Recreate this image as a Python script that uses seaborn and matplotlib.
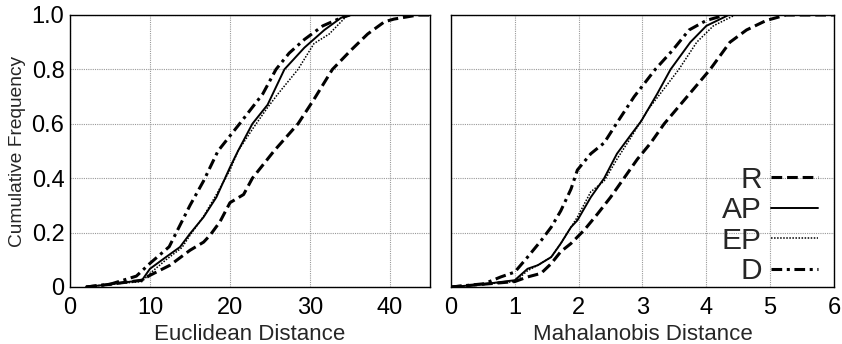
import numpy as np
import pandas as pd
import matplotlib.pyplot as plt
import seaborn as sns

# =============================================================================
# DONNÉES
# =============================================================================

# Distance euclidienne
eu_x_R  = [2, 5, 9, 10, 12.5, 15, 16.7, 17.5, 18.75, 20, 21.7, 22.8, 25.5, 28.5, 30.5, 32.8, 35.1, 37.2, 39.3, 40.5, 43.5, 45]
eu_y_R  = [0, 0.01, 0.025, 0.043, 0.08, 0.135, 0.165, 0.19, 0.24, 0.31, 0.34, 0.40, 0.50, 0.60, 0.69, 0.80, 0.87, 0.93, 0.975, 0.985, 1.0, 1.0]
eu_x_AP = [2, 5, 9, 10, 12, 13.75, 15, 16.7, 18.3, 20, 21, 22.8, 24.7, 26.8, 29.3, 31.8, 33.9, 35]
eu_y_AP = [0, 0.01, 0.025, 0.067, 0.11, 0.147, 0.196, 0.257, 0.33, 0.44, 0.50, 0.60, 0.67, 0.80, 0.88, 0.945, 0.99, 1.0]
eu_x_EP = [2, 5, 9, 10, 12, 14, 15, 16.7, 18.3, 20, 21, 22.8, 24.7, 26, 28.5, 30.5, 32.4, 34.7]
eu_y_EP = [0, 0.01, 0.02, 0.05, 0.10, 0.145, 0.19, 0.26, 0.34, 0.43, 0.50, 0.58, 0.66, 0.71, 0.80, 0.895, 0.93, 1.0]
eu_x_D  = [2, 5, 8.3, 10, 12.4, 15, 16.7, 18.5, 21.2, 24.1, 25.75, 27.4, 29.3, 31.6, 33.9, 35]
eu_y_D  = [0, 0.01, 0.04, 0.087, 0.148, 0.30, 0.39, 0.50, 0.60, 0.71, 0.80, 0.86, 0.91, 0.96, 0.99, 1.0]

# Distance de Mahalanobis
ma_x_R  = [0, 0.5, 1.0, 1.2, 1.41, 1.57, 1.72, 1.88, 2.09, 2.3, 2.5, 2.71, 2.92, 3.13, 3.34, 3.70, 4.06, 4.37, 4.63, 4.94, 5.25, 6.0]
ma_y_R  = [0, 0.01, 0.02, 0.037, 0.05, 0.086, 0.13, 0.16, 0.21, 0.27, 0.33, 0.40, 0.47, 0.53, 0.60, 0.70, 0.80, 0.90, 0.945, 0.98, 1.0, 1.0]
ma_x_AP = [0, 0.5, 1.0, 1.2, 1.36, 1.57, 1.72, 1.88, 1.98, 2.19, 2.4, 2.6, 2.82, 2.98, 3.23, 3.44, 3.75, 4.0, 4.35, 4.5]
ma_y_AP = [0, 0.01, 0.025, 0.067, 0.08, 0.11, 0.16, 0.22, 0.245, 0.33, 0.40, 0.49, 0.56, 0.61, 0.71, 0.80, 0.90, 0.96, 1.0, 1.0]
ma_x_EP = [0, 0.5, 1.0, 1.2, 1.36, 1.57, 1.72, 1.88, 1.98, 2.19, 2.4, 2.6, 2.82, 3.08, 3.57, 3.85, 4.11, 4.45]
ma_y_EP = [0, 0.01, 0.02, 0.06, 0.08, 0.11, 0.16, 0.22, 0.257, 0.35, 0.39, 0.47, 0.55, 0.65, 0.80, 0.90, 0.96, 1.0]
ma_x_D  = [0, 0.52, 0.78, 1.0, 1.2, 1.41, 1.57, 1.72, 1.88, 1.98, 2.19, 2.4, 2.59, 2.87, 3.2, 3.47, 3.73, 4.0, 4.3]
ma_y_D  = [0, 0.012, 0.037, 0.055, 0.11, 0.17, 0.22, 0.28, 0.36, 0.43, 0.49, 0.53, 0.60, 0.70, 0.80, 0.87, 0.945, 0.98, 1.0]

series = ["R", "AP", "EP", "D"]
styles = {"R": (0, (3.5, 1.6)), "AP": "-", "EP": (0, (1, 1)), "D": (0, (3.5, 1.5, 1, 1.5))}
widths = {"R": 2.2, "AP": 1.4, "EP": 1.1, "D": 2.2}

eu = {"R": (eu_x_R, eu_y_R), "AP": (eu_x_AP, eu_y_AP), "EP": (eu_x_EP, eu_y_EP), "D": (eu_x_D, eu_y_D)}
ma = {"R": (ma_x_R, ma_y_R), "AP": (ma_x_AP, ma_y_AP), "EP": (ma_x_EP, ma_y_EP), "D": (ma_x_D, ma_y_D)}

# =============================================================================
# STYLE
# =============================================================================

sns.set_theme(style="white")
plt.rcParams["font.family"] = ["Liberation Sans", "DejaVu Sans"]

fig = plt.figure(figsize=(8.42, 3.44), dpi=100)
ax1 = fig.add_axes([0.0831, 0.1657, 0.4276, 0.7907])
ax2 = fig.add_axes([0.5356, 0.1657, 0.4549, 0.7907])


def tracer(ax, donnees):
    for s in series:
        x, y = donnees[s]
        df = pd.DataFrame({"x": x, "y": y})
        sns.lineplot(data=df, x="x", y="y", ax=ax, color="black",
                     linestyle=styles[s], linewidth=widths[s], label=s)
    ax.grid(True, color="#999999", linestyle=(0, (1, 1)), linewidth=0.8)
    for sp in ax.spines.values():
        sp.set_color("black")
        sp.set_linewidth(1.0)
    ax.set_ylim(0, 1)
    ax.set_yticks([0, 0.2, 0.4, 0.6, 0.8, 1.0])
    ax.tick_params(axis="both", labelsize=17, length=0, colors="black")
    ax.tick_params(axis="x", pad=7)
    ax.tick_params(axis="y", pad=4)


tracer(ax1, eu)
ax1.set_xlim(0, 45)
ax1.set_xticks([0, 10, 20, 30, 40])
ax1.set_yticklabels(["0", "0.2", "0.4", "0.6", "0.8", "1.0"])
ax1.set_xlabel("Euclidean Distance", fontsize=16, labelpad=4)
ax1.set_ylabel("Cumulative Frequency", fontsize=13.8, labelpad=4)
ax1.get_legend().remove()

tracer(ax2, ma)
ax2.set_xlim(0, 6)
ax2.set_xticks([0, 1, 2, 3, 4, 5, 6])
ax2.set_yticklabels([])
ax2.set_xlabel("Mahalanobis Distance", fontsize=16, labelpad=4)
ax2.set_ylabel("")
ax2.legend(loc="lower right", bbox_to_anchor=(0.974, -0.015), frameon=False,
           markerfirst=False, fontsize=21.5, handlelength=1.56,
           handletextpad=0.33, labelspacing=0.08, borderpad=0.2,
           borderaxespad=0.0)

plt.savefig("out.png", dpi=100)
